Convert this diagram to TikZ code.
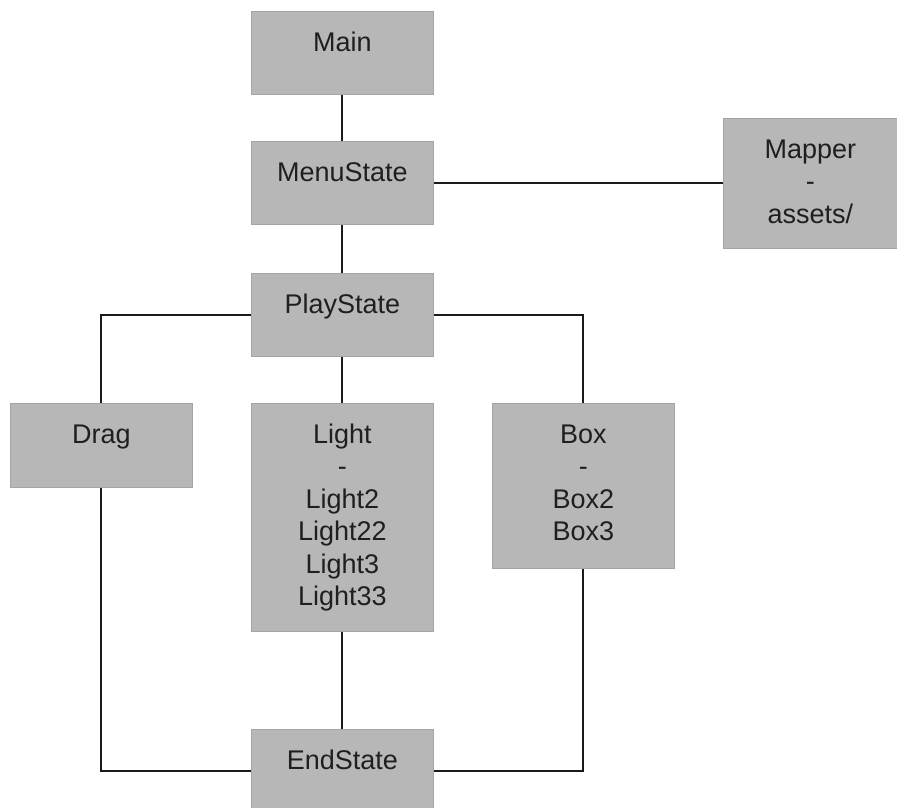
\documentclass[tikz,border=0pt]{standalone}
\usepackage{fontspec}
\setmainfont{Liberation Sans}
\definecolor{boxfill}{RGB}{183,183,183}
\definecolor{boxline}{RGB}{165,165,165}
\definecolor{wire}{RGB}{26,26,26}
\newcommand{\mylines}[1]{\begin{tabular}[t]{@{}c@{}}#1\end{tabular}}
\begin{document}
\begin{tikzpicture}[x=1pt,y=-1pt,
  gbox/.style={draw=boxline, fill=boxfill, line width=0.8pt, inner sep=0pt,
    anchor=north west, minimum width=182pt, text height=40pt,
    font=\fontsize{27}{32.4}\selectfont, text=black!88},
  wireline/.style={draw=wire, line width=2pt}]
\useasboundingbox (0,0) rectangle (897,808);
\node[gbox, text depth=43pt] (main) at (251,11) {Main};
\node[gbox, text depth=43pt] (menu) at (251,141) {MenuState};
\node[gbox, text depth=90pt, minimum width=174pt] (mapper) at (723,118) {\mylines{Mapper\\-\\assets/}};
\node[gbox, text depth=43pt] (play) at (251,273) {PlayState};
\node[gbox, text depth=44pt] (drag) at (10,403) {Drag};
\node[gbox, text depth=188pt] (light) at (251,403) {\mylines{Light\\-\\Light2\\Light22\\Light3\\Light33}};
\node[gbox, text depth=125pt] (box) at (492,403) {\mylines{Box\\-\\Box2\\Box3}};
\node[gbox, text depth=44pt] (end) at (251,729) {EndState};
\draw[wireline] (main.south) -- (menu.north);
\draw[wireline] (menu.east) -- (mapper.west |- menu.east);
\draw[wireline] (menu.south) -- (play.north);
\draw[wireline] (play.south) -- (light.north);
\draw[wireline] (play.west) -| (drag.north);
\draw[wireline] (play.east) -| (box.north);
\draw[wireline] (light.south) -- (end.north);
\draw[wireline] (drag.south) |- (end.west);
\draw[wireline] (box.south) |- (end.east);
\end{tikzpicture}
\end{document}
